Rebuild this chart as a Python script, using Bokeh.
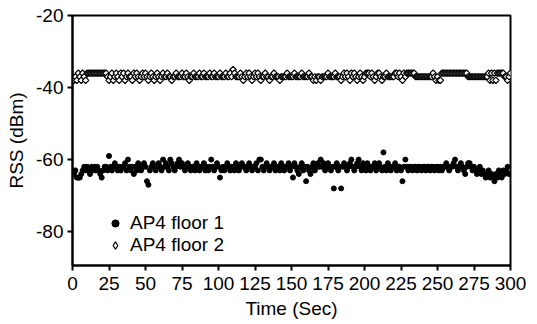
import math
from bokeh.plotting import figure
from bokeh.models import FixedTicker, Range1d, Legend, LegendItem
from bokeh.embed import file_html
from bokeh.resources import INLINE

x_ticks = [0, 25, 50, 75, 100, 125, 150, 175, 200, 225, 250, 275, 300]
y_ticks = [-80, -60, -40, -20]

floor1 = [
    -63, -64, -63, -65, -65, -65, -64, -63, -62, -63, -62, -63, -64, -62, -63, -62, -63, -62, -63, -64, -65, -63, -62, -62, -63,
    -59, -62, -63, -62, -61, -62, -63, -62, -63, -62, -62, -61, -63, -60, -62, -63, -62, -64, -62, -63, -61, -62, -63, -62, -61,
    -62, -66, -67, -63, -62, -61, -62, -63, -62, -61, -62, -63, -60, -62, -61, -62, -63, -60, -61, -62, -63, -62, -61, -60, -62,
    -61, -62, -63, -62, -61, -62, -63, -62, -62, -63, -61, -62, -63, -62, -62, -61, -63, -62, -63, -62, -60, -62, -63, -62, -61,
    -62, -65, -63, -62, -63, -62, -61, -62, -63, -62, -62, -63, -61, -62, -63, -62, -61, -62, -62, -63, -62, -61, -62, -63, -62,
    -62, -61, -63, -60, -60, -62, -63, -62, -61, -62, -63, -62, -62, -61, -63, -62, -62, -63, -61, -62, -63, -62, -62, -61, -63,
    -62, -65, -61, -62, -63, -64, -62, -61, -63, -62, -66, -62, -63, -64, -62, -61, -63, -62, -61, -62, -60, -62, -61, -63, -62,
    -61, -62, -63, -62, -68, -62, -61, -63, -62, -68, -62, -61, -62, -63, -62, -61, -60, -62, -63, -62, -61, -60, -62, -63, -61,
    -62, -63, -61, -62, -63, -62, -62, -61, -63, -62, -61, -62, -63, -58, -62, -63, -61, -62, -63, -62, -62, -61, -63, -62, -62,
    -63, -66, -62, -60, -62, -63, -62, -62, -63, -62, -62, -63, -62, -62, -63, -62, -62, -63, -62, -62, -63, -62, -62, -63, -62,
    -62, -63, -62, -63, -62, -62, -61, -62, -63, -62, -62, -61, -60, -62, -63, -62, -61, -62, -63, -64, -62, -61, -61, -62, -63,
    -62, -63, -64, -63, -62, -64, -63, -64, -65, -64, -63, -65, -64, -65, -66, -64, -65, -63, -64, -65, -63, -64, -63, -62, -64, -64,
]

floor2 = [
    -37, -38, -37, -38, -36, -37, -38, -36, -37, -38, -36, -36, -36, -36, -36, -36, -36, -36, -36, -36, -36, -36, -36, -36, -37,
    -38, -37, -36, -38, -37, -36, -37, -38, -36, -37, -36, -38, -37, -36, -37, -37, -38, -36, -37, -36, -37, -38, -37, -36, -37,
    -36, -37, -38, -37, -36, -37, -38, -37, -36, -37, -38, -37, -36, -37, -37, -36, -37, -37, -38, -37, -37, -36, -37, -37, -37,
    -36, -37, -37, -36, -37, -38, -37, -37, -36, -37, -37, -37, -36, -37, -37, -36, -37, -37, -37, -36, -37, -37, -36, -37, -37,
    -37, -36, -37, -37, -37, -36, -37, -37, -36, -37, -35, -36, -37, -37, -37, -36, -37, -38, -37, -36, -37, -36, -37, -38, -37,
    -36, -37, -36, -37, -38, -37, -37, -36, -37, -37, -38, -37, -37, -36, -37, -37, -37, -38, -37, -37, -37, -37, -36, -37, -37,
    -37, -37, -36, -37, -37, -37, -37, -36, -37, -37, -37, -37, -36, -37, -37, -38, -37, -38, -37, -37, -38, -37, -37, -37, -37,
    -36, -37, -37, -37, -37, -36, -37, -37, -37, -38, -37, -36, -37, -36, -37, -38, -36, -37, -36, -37, -38, -37, -36, -37, -38,
    -37, -36, -36, -36, -37, -36, -37, -38, -37, -36, -36, -37, -38, -37, -37, -36, -37, -37, -37, -37, -37, -36, -36, -37, -36,
    -37, -38, -36, -37, -36, -36, -36, -36, -36, -36, -37, -37, -37, -37, -37, -37, -37, -37, -37, -37, -37, -37, -36, -37, -38,
    -37, -38, -38, -36, -36, -36, -36, -36, -36, -36, -36, -36, -36, -36, -36, -36, -36, -36, -36, -36, -36, -37, -37, -37, -37,
    -37, -37, -37, -37, -37, -37, -37, -37, -37, -37, -36, -38, -36, -38, -36, -38, -36, -36, -36, -36, -36, -37, -37, -38, -37, -36,
]

time = list(range(len(floor1)))

# off-range anchor so the legend-only markers have one (invisible) point
proxy_x = [-1000]
proxy_y = [-1000]

FONT = "Liberation Sans"
FS = "19px"

p = figure(width=537, height=324, output_backend="svg", toolbar_location=None,
           x_range=Range1d(0, 300), y_range=Range1d(-89.4, -20),
           min_border_left=72, min_border_right=27, min_border_top=15, min_border_bottom=59)
p.background_fill_color = "white"
p.border_fill_color = "white"
p.outline_line_color = "black"
p.outline_line_width = 2
p.xgrid.visible = False
p.ygrid.visible = False

p.scatter(time, floor1, marker="circle", size=5, fill_color="black", line_color="black")
p.scatter(time, floor2, marker="square", size=4.5, angle=math.pi / 4,
          fill_color="white", line_color="black", line_width=1.2)

l1 = p.scatter(proxy_x, proxy_y, marker="circle", size=4.5, fill_color="black", line_color="black")
l2 = p.scatter(proxy_x, proxy_y, marker="diamond", size=8, fill_color="white", line_color="black", line_width=1.2)

for ax in (p.xaxis[0], p.yaxis[0]):
    ax.axis_line_color = "black"
    ax.axis_line_width = 2
    ax.major_tick_line_color = "black"
    ax.major_tick_line_width = 2
    ax.major_tick_out = 5
    ax.major_tick_in = 0
    ax.minor_tick_line_color = None
    ax.major_label_text_font = FONT
    ax.major_label_text_font_size = FS
    ax.major_label_text_color = "black"
    ax.axis_label_text_font = FONT
    ax.axis_label_text_font_size = FS
    ax.axis_label_text_font_style = "normal"
    ax.axis_label_text_color = "black"

p.xaxis[0].ticker = FixedTicker(ticks=x_ticks)
p.yaxis[0].ticker = FixedTicker(ticks=y_ticks)
p.yaxis[0].major_label_overrides = {t: str(t) for t in y_ticks}
p.xaxis[0].axis_label = "Time (Sec)"
p.yaxis[0].axis_label = "RSS (dBm)"
p.xaxis[0].major_label_standoff = 6
p.xaxis[0].axis_label_standoff = 5
p.yaxis[0].major_label_standoff = 4
p.yaxis[0].axis_label_standoff = 6

legend = Legend(items=[LegendItem(label="AP4 floor 1", renderers=[l1]),
                       LegendItem(label="AP4 floor 2", renderers=[l2])],
                location=(33, 9), padding=0, margin=0, spacing=-4,
                glyph_width=20, glyph_height=18, label_height=18, label_standoff=5,
                label_text_font=FONT, label_text_font_size=FS, label_text_color="black",
                border_line_color=None, background_fill_alpha=0)
p.add_layout(legend)

open("out.html", "w").write(file_html(p, INLINE))
